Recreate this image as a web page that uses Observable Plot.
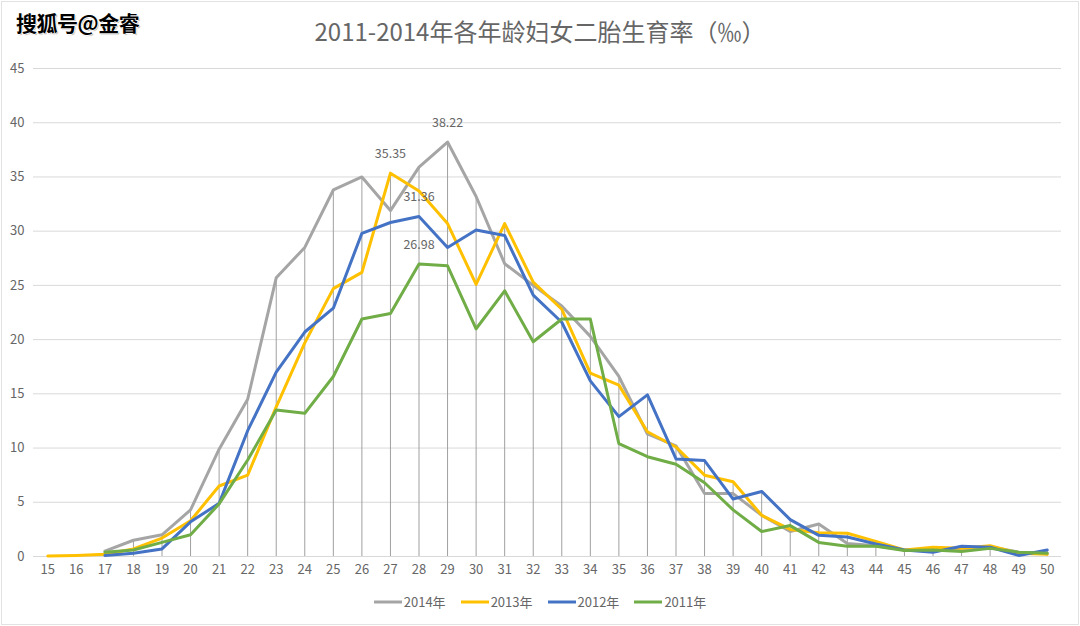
<!DOCTYPE html>
<html><head><meta charset="utf-8">
<script src="https://cdn.jsdelivr.net/npm/d3@7"></script>
<script src="https://cdn.jsdelivr.net/npm/@observablehq/plot@0.6"></script>
<style>
body{margin:0;background:#fff;}
#wrap{position:relative;width:1080px;height:626px;overflow:hidden;font-family:"Noto Sans CJK SC","Noto Sans",sans-serif;background:#fff;}
#frame{position:absolute;left:1px;top:1px;right:1px;bottom:1px;border:1px solid #e2e2e2;pointer-events:none;}
#title{position:absolute;left:0;top:14px;width:1080px;text-align:center;font-size:24px;color:#666;line-height:34px;}
#mark{position:absolute;left:16px;top:7px;font-size:21px;font-weight:bold;color:#000;line-height:30px;letter-spacing:-0.5px;
 text-shadow:1px 0 0 #fff,-1px 0 0 #fff,0 1px 0 #fff,0 -1px 0 #fff,1px 1px 1px #888;}
#chart{position:absolute;left:0;top:0;}
#legend{position:absolute;top:592px;left:0;width:1080px;display:flex;justify-content:center;gap:15px;font-size:13px;color:#666;line-height:20px;}
#legend span.it{display:flex;align-items:center;}
#legend svg{margin-right:2px;}
</style></head>
<body>
<div id="wrap">
  <div id="chart"></div>
  <div id="title">2011-2014年各年龄妇女二胎生育率（‰）</div>
  <div id="mark">搜狐号@金睿</div>
  <div id="legend"></div>
  <div id="frame"></div>
</div>
<script>
const ages = [15,16,17,18,19,20,21,22,23,24,25,26,27,28,29,30,31,32,33,34,35,36,37,38,39,40,41,42,43,44,45,46,47,48,49,50];
const seriesNames = ["2014年","2013年","2012年","2011年"];
const seriesColors = ["#a5a5a5","#ffc000","#4472c4","#70ad47"];
const v2014 = [null,null,0.5,1.5,2.0,4.3,9.9,14.5,25.7,28.5,33.8,35.0,31.9,35.9,38.22,33.2,27.0,25.0,23.1,20.3,16.6,11.3,10.2,5.8,5.8,3.8,2.3,3.0,1.2,1.0,0.6,0.7,0.6,0.9,0.4,0.3];
const v2013 = [0.05,0.1,0.2,0.7,1.7,3.3,6.5,7.5,13.8,19.7,24.7,26.2,35.35,33.7,30.7,25.1,30.7,25.3,22.8,16.9,15.8,11.5,10.1,7.5,6.9,3.8,2.5,2.2,2.15,1.4,0.6,0.85,0.75,1.0,0.3,0.2];
const v2012 = [null,null,0.1,0.3,0.7,3.2,4.9,11.6,17.0,20.7,22.9,29.8,30.8,31.36,28.5,30.1,29.6,24.1,21.6,16.2,12.9,14.9,9.0,8.85,5.3,6.0,3.4,1.95,1.8,1.15,0.6,0.4,0.95,0.85,0.1,0.6];
const v2011 = [null,null,0.4,0.6,1.3,2.0,4.85,8.9,13.5,13.2,16.6,21.9,22.4,26.98,26.8,21.0,24.5,19.8,21.9,21.9,10.4,9.2,8.5,6.8,4.3,2.3,2.85,1.3,0.95,0.95,0.55,0.6,0.45,0.75,0.4,0.3];
const yTicks = [0,5,10,15,20,25,30,35,40,45];
const labelSeries = ["2014年","2013年","2012年","2011年"];
const labelAges = [29,27,28,28];

const allValues = [v2014,v2013,v2012,v2011];
const long = [];
seriesNames.forEach((s,i)=>{
  ages.forEach((a,j)=>{ const v = allValues[i][j]; if (v!=null) long.push({series:s, age:a, value:v}); });
});
const drops = ages.map((a,j)=>({age:a, max: d3.max(allValues, arr=>arr[j])}));
const labels = labelSeries.map((s,i)=>{
  const j = ages.indexOf(labelAges[i]);
  const v = allValues[seriesNames.indexOf(s)][j];
  return {series:s, age:labelAges[i], value:v, text: v.toFixed(2)};
});

const font = '"Noto Sans CJK SC","Noto Sans",sans-serif';
const chart = Plot.plot({
  width:1080, height:626,
  marginTop:68, marginBottom:70, marginLeft:33, marginRight:19,
  style:{fontSize:"13px", color:"#666", fontFamily:font, background:"transparent"},
  x:{domain:[14.5,50.5], ticks:ages, tickFormat:d=>String(d), tickSize:0, tickPadding:8, label:null},
  y:{domain:[0,45], ticks:yTicks, tickSize:0, tickPadding:9, label:null},
  color:{domain:seriesNames, range:seriesColors},
  marks:[
    Plot.ruleY(yTicks,{stroke:"#d9d9d9", strokeWidth:1}),
    Plot.ruleX(drops,{x:"age", y1:0, y2:"max", stroke:"#a0a0a0", strokeWidth:1}),
    ...seriesNames.map(s=>Plot.line(long.filter(d=>d.series===s),{x:"age", y:"value", stroke:"series", strokeWidth:3, strokeLinejoin:"round", strokeLinecap:"round"})),
    Plot.text(labels,{x:"age", y:"value", text:"text", dy:-19, fill:"#666", fontSize:12.5})
  ]
});
document.getElementById("chart").appendChild(chart);

const leg = document.getElementById("legend");
seriesNames.forEach((s,i)=>{
  const it = document.createElement("span"); it.className="it";
  it.innerHTML = `<svg width="28" height="6"><line x1="0" y1="3" x2="28" y2="3" stroke="${seriesColors[i]}" stroke-width="3"/></svg><span>${s}</span>`;
  leg.appendChild(it);
});
</script>
</body></html>
